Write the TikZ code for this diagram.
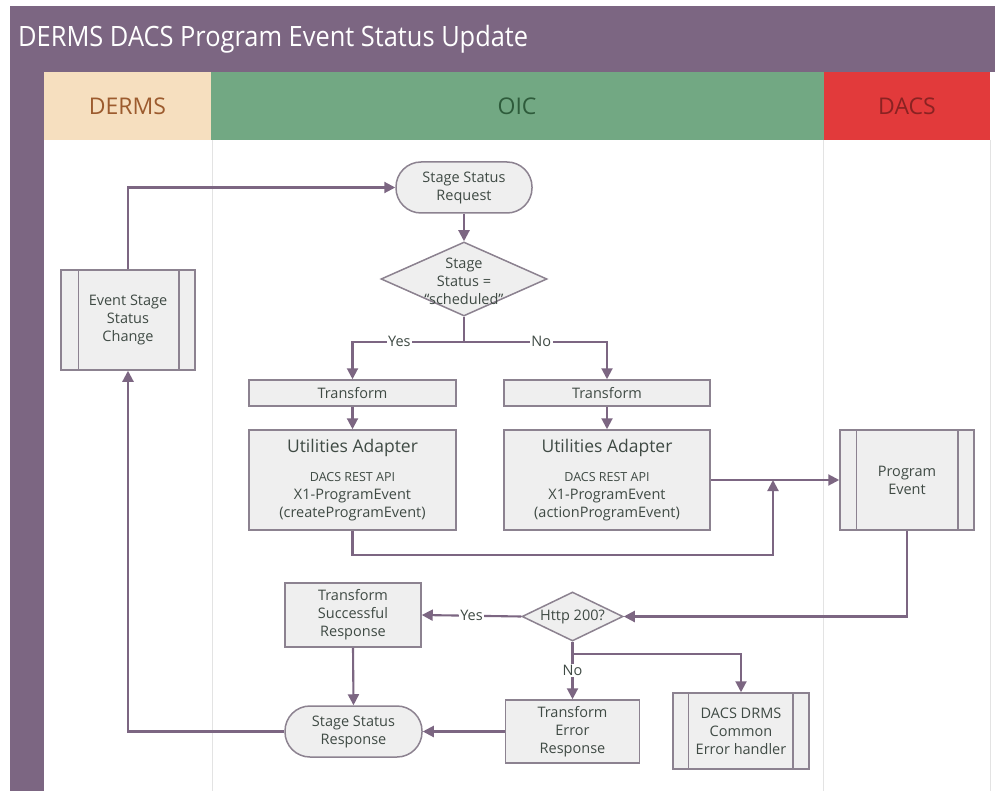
\documentclass[tikz,border=0pt]{standalone}
\usepackage{fontspec}
\usepackage{graphicx}
\setmainfont{Open Sans}
\usetikzlibrary{arrows.meta,shapes.geometric,calc}
\definecolor{purp}{HTML}{7C6682}
\definecolor{derbg}{HTML}{F6DFBF}
\definecolor{dertx}{HTML}{9C5B2E}
\definecolor{oicbg}{HTML}{72A883}
\definecolor{oictx}{HTML}{2E5B3B}
\definecolor{dacbg}{HTML}{E23A3B}
\definecolor{dactx}{HTML}{8A2222}
\definecolor{nodefill}{HTML}{EFEFEF}
\definecolor{nodeline}{HTML}{8C8290}
\definecolor{txtc}{HTML}{3F4A44}
\definecolor{sepc}{HTML}{E3E3E3}
\tikzset{
  box/.style={draw=nodeline, fill=nodefill, line width=1.5pt, inner sep=0pt, align=center,
    text=txtc, font=\fontsize{14.5}{18}\selectfont},
  stadium/.style={box, rounded corners=25pt},
  dia/.style={draw=nodeline, fill=nodefill, line width=1.5pt, diamond, inner sep=0pt},
  dtext/.style={align=center, text=txtc, font=\fontsize{14.5}{18}\selectfont, inner sep=0pt},
  flow/.style={draw=purp, line width=2.1pt, -{Triangle[length=11pt,width=11pt]}},
  flowline/.style={draw=purp, line width=2.1pt},
  lbl/.style={fill=white, text=txtc, font=\fontsize{14.5}{16}\selectfont, inner sep=1.5pt},
  lanehead/.style={font=\fontsize{23}{26}\selectfont, inner sep=0pt},
  sepline/.style={draw=sepc, line width=1pt},
}
\begin{document}
\begin{tikzpicture}[x=1pt,y=-1pt]
\useasboundingbox (0,0) rectangle (995,791);
% frame
\fill[white] (0,0) rectangle (995,791);
\fill[purp] (10,6) rectangle (995,72);
\fill[purp] (10,72) rectangle (44,791);
\fill[derbg] (44,72) rectangle (211,140);
\fill[oicbg] (211,72) rectangle (824,140);
\fill[dacbg] (824,72) rectangle (990,140);
\draw[sepline] (212,140) -- (212,791);
\draw[sepline] (823.5,140) -- (823.5,791);
\draw[sepline] (990,140) -- (990,791);
\node[anchor=west, text=white, inner sep=0pt] (title) at (18,39)
  {\resizebox{510pt}{\height}{\fontsize{28}{32}\selectfont DERMS DACS Program Event Status Update}};
\node[lanehead, text=dertx] (hderms) at (127.5,106) {DERMS};
\node[lanehead, text=oictx] (hoic) at (517,106) {OIC};
\node[lanehead, text=dactx] (hdacs) at (907,106) {DACS};

% nodes
\node[box, minimum width=134, minimum height=100] (esc) at (128,320) {Event Stage\\Status\\Change};
\draw[nodeline, line width=1.5pt] ([xshift=18]esc.north west) -- ([xshift=18]esc.south west);
\draw[nodeline, line width=1.5pt] ([xshift=-17]esc.north east) -- ([xshift=-17]esc.south east);

\node[stadium, minimum width=136, minimum height=51] (ssr) at (464,187.5) {Stage Status\\Request};
\node[dia, minimum width=166, minimum height=74] (d1) at (464,279) {};
\node[dtext] (d1t) at (464,281) {Stage\\Status =\\“scheduled”};

\node[box, minimum width=207, minimum height=26] (tl) at (352.5,393) {Transform};
\node[box, minimum width=206, minimum height=26] (tr) at (607,393) {Transform};

\node[box, minimum width=207, minimum height=100] (ual) at (352.5,480)
  {{\fontsize{17.5}{20}\selectfont Utilities Adapter}\\[11pt]{\fontsize{12.5}{18}\selectfont DACS REST API}\\X1-ProgramEvent\\(createProgramEvent)};
\node[box, minimum width=206, minimum height=100] (uar) at (607,480)
  {{\fontsize{17.5}{20}\selectfont Utilities Adapter}\\[11pt]{\fontsize{12.5}{18}\selectfont DACS REST API}\\X1-ProgramEvent\\(actionProgramEvent)};

\node[box, minimum width=134, minimum height=100] (pe) at (907,480) {Program\\Event};
\draw[nodeline, line width=1.5pt] ([xshift=17]pe.north west) -- ([xshift=17]pe.south west);
\draw[nodeline, line width=1.5pt] ([xshift=-17]pe.north east) -- ([xshift=-17]pe.south east);

\node[dia, minimum width=101, minimum height=49] (http) at (572.5,616.5) {};
\node[dtext] (httpt) at (572.5,616.5) {Http 200?};

\node[box, minimum width=136, minimum height=64] (tsr) at (353,615) {Transform\\Successful\\Response};
\node[box, minimum width=134, minimum height=63] (ter) at (572.5,731.5) {Transform\\Error\\Response};
\node[box, minimum width=136, minimum height=76] (ddr) at (741,731) {DACS DRMS\\Common\\Error handler};
\draw[nodeline, line width=1.5pt] ([xshift=16]ddr.north west) -- ([xshift=16]ddr.south west);
\draw[nodeline, line width=1.5pt] ([xshift=-17]ddr.north east) -- ([xshift=-17]ddr.south east);
\node[stadium, minimum width=137, minimum height=51] (ssresp) at (353.5,731.5) {Stage Status\\Response};

% connectors
\draw[flow] (esc.north) |- (ssr.west);
\draw[flow] (ssr.south) -- (d1.north);
\coordinate (br1) at ($(d1.south)+(0,25)$);
\draw[flowline] (d1.south) -- (br1);
\draw[flow] (br1) -| node[lbl, pos=0.29] {Yes} (tl.north);
\draw[flow] (br1) -| node[lbl, pos=0.27] {No} (tr.north);
\draw[flow] (tl.south) -- (ual.north);
\draw[flow] (tr.south) -- (uar.north);
\draw[flow] (uar.east) -- (pe.west);
\coordinate (j1) at (773,480);
\draw[flow] (ual.south) -- ++(0,24) -| (j1);
\draw[flow] (pe.south) |- (http.east);
\draw[flow] (http.west) -- node[lbl] {Yes} (tsr.east);
\draw[flow] (http.south) -- node[lbl, pos=0.5] {No} (ter.north);
\coordinate (br2) at ($(http.south)+(0,12)$);
\draw[flow] (br2) -| (ddr.north);
\draw[flow] (tsr.south) -- (ssresp.north);
\draw[flow] (ter.west) -- (ssresp.east);
\draw[flow] (ssresp.west) -| (esc.south);
\end{tikzpicture}
\end{document}
